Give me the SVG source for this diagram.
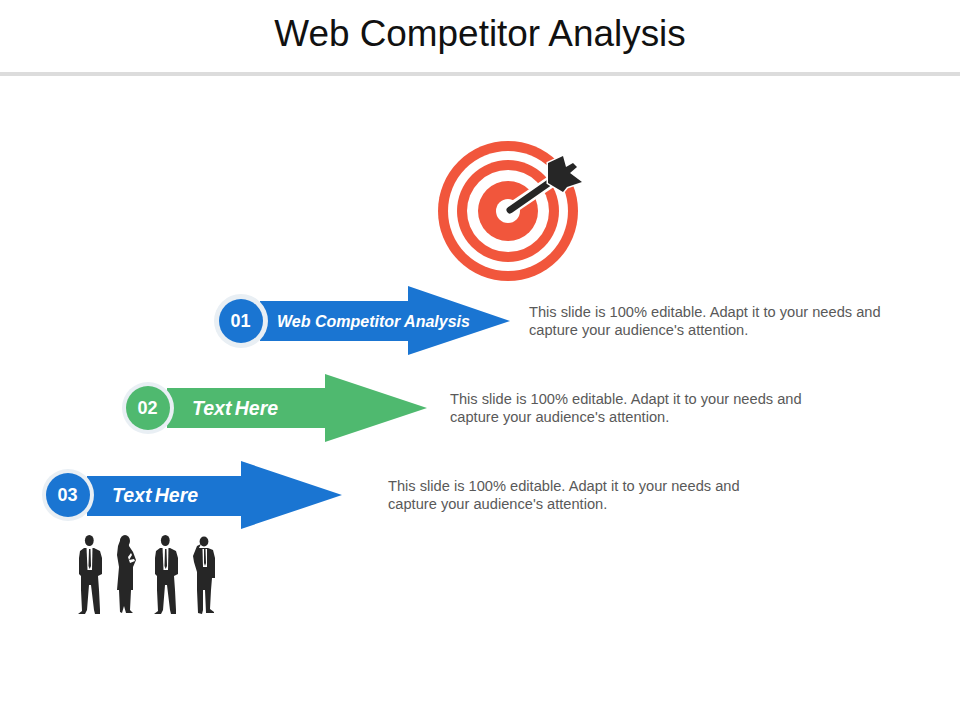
<svg xmlns="http://www.w3.org/2000/svg" width="960" height="720" viewBox="0 0 960 720">
<style>
text{font-family:"Liberation Sans",Arial,sans-serif}
.title{font-size:36.9px;fill:#111;text-anchor:middle}
.desc{font-size:14.65px;fill:#595959}
.num{font-size:18px;font-weight:bold;fill:#fff;text-anchor:middle}
.lab{font-weight:bold;font-style:italic;fill:#fff}
.blue{fill:#1a75d2}
.green{fill:#4fb96f}
.halo{fill:#e9eff4}
.red{fill:#f1563c}
.wht{fill:#fff}
.dark{fill:#262626}
</style>
<defs>
<g id="man">
<ellipse cx="89.3" cy="540.5" rx="4.4" ry="5.5" class="dark"/>
<path class="dark" d="M84 548L94 548L100 551L102 558L102 574L98 576L99 590L100 610L100 614L95 614L94 610L91 585L89 585L87 610L85 614L78 614L82 611L81 590L81 576L79 574L79 558L80 551Z"/>
<path class="wht" d="M86.5 547L92.5 547L92 570L87.500 570Z"/>
<path class="dark" d="M89 549L90.5 549L91 566L89.7 569L88.500 566Z"/>
</g>
</defs>
<text class="title" x="480" y="46">Web Competitor Analysis</text>
<rect x="0" y="72" width="960" height="4" fill="#dcdcdc"/>
<g id="target">
<circle class="red" cx="508" cy="211" r="70"/>
<circle class="wht" cx="508" cy="211" r="60"/>
<circle class="red" cx="508" cy="211" r="51"/>
<circle class="wht" cx="508" cy="211" r="41"/>
<circle class="red" cx="508" cy="211" r="30"/>
<circle class="wht" cx="508" cy="211" r="12"/>
<path d="M512 208L552 181" stroke="#fff" stroke-width="12" fill="none"/>
<path d="M510 210L553 180" stroke="#262626" stroke-width="7" stroke-linecap="round" fill="none"/>
<path class="dark" stroke="#fff" stroke-width="3" paint-order="stroke" d="M548 163L563 156L566 167L573 163L577 167L570 173L582 182L567 187L563 192L548 183Z"/>
</g>
<g id="people">
<use href="#man"/>
<use href="#man" x="76"/>
<g id="woman">
<ellipse cx="125" cy="541" rx="5" ry="6" class="dark"/>
<path class="dark" d="M121 538L128 538L129 546L133 552L136 560L133 567L133 590L131 590L130 610L133 613L126 613L124 606L122 613L120 612L119 590L117 590L119 567L117 555L118 546Z"/>
<path class="wht" d="M128 557L131 553L132 555L129 560L134 559L135 561L130 563Z"/>
</g>
<g id="phone">
<ellipse cx="204" cy="541.500" rx="4.400" ry="5" class="dark"/>
<path class="dark" d="M199 548L208 548L213 550L215 558L215 578L212 578L211 590L210 609L214 612L214 613L206 613L205 590L203 590L203 610L202 614L198 613L197 590L197 572L194 562L193 556L197 546L201 544Z"/>
<path class="wht" d="M202.500 549L207 549L207 567L203 567Z"/>
<path class="dark" d="M204 549L205.500 549L206 563L205 566L204 563Z"/>
</g>
</g>
<g id="connectors"></g>
<g id="node-01">
<path class="blue" d="M260 301L408 301L408 286L510 321L408 355L408 341L260 341Z"/>
<circle class="halo" cx="241" cy="321" r="27"/>
<circle class="blue" cx="241" cy="321" r="22"/>
<text class="num" x="240.500" y="327">01</text>
<text class="lab" x="277" y="326.500" font-size="16px">Web Competitor Analysis</text>
<text class="desc" x="529" y="316.500">This slide is 100% editable. Adapt it to your needs and</text>
<text class="desc" x="529" y="335">capture your audience's attention.</text>
</g>
<g id="node-02">
<path class="green" d="M167 388L325 388L325 374L427 408L325 442L325 428L167 428Z"/>
<circle class="halo" cx="148" cy="408" r="26"/>
<circle class="green" cx="148" cy="408" r="22"/>
<text class="num" x="147.500" y="414">02</text>
<text class="lab" x="192" y="414.500" font-size="19.500px" word-spacing="-2">Text Here</text>
<text class="desc" x="450" y="403.500">This slide is 100% editable. Adapt it to your needs and</text>
<text class="desc" x="450" y="422">capture your audience's attention.</text>
</g>
<g id="node-03">
<path class="blue" d="M87 476L241 476L241 461L342 495L241 529L241 516L87 516Z"/>
<circle class="halo" cx="68" cy="495" r="26"/>
<circle class="blue" cx="68" cy="495" r="22"/>
<text class="num" x="67.500" y="501">03</text>
<text class="lab" x="112" y="501.500" font-size="19.500px" word-spacing="-2">Text Here</text>
<text class="desc" x="388" y="490.500">This slide is 100% editable. Adapt it to your needs and</text>
<text class="desc" x="388" y="509">capture your audience's attention.</text>
</g>
</svg>
